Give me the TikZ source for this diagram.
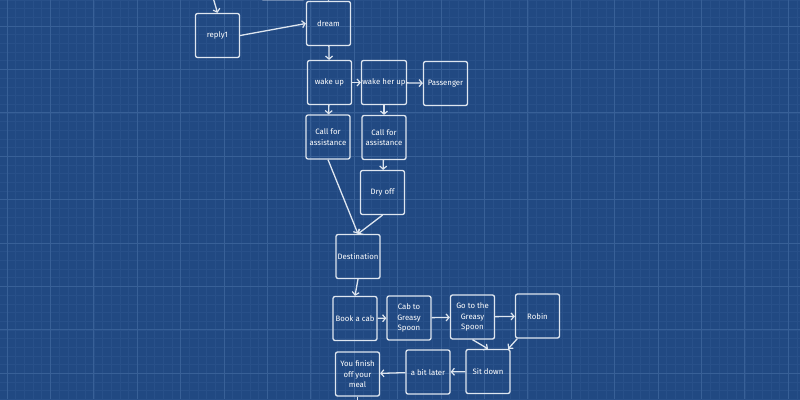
\documentclass[tikz,border=0pt]{standalone}
\usepackage{fontspec}
\setmainfont{Fira Sans}
\usetikzlibrary{arrows.meta}
\definecolor{bpblue}{RGB}{33,73,130}
\definecolor{bpminor}{RGB}{40,80,137}
\definecolor{bpmajor}{RGB}{56,96,151}
\definecolor{bpline}{RGB}{222,230,240}

\tikzset{
  box/.style={draw=bpline, line width=1.3pt, rounded corners=2pt,
    minimum width=44pt, minimum height=44pt, inner sep=1pt,
    align=center, text=white, font=\fontsize{7.8}{10.5}\selectfont},
  flow/.style={draw=bpline, line width=1.3pt,
    -{Straight Barb[length=3pt,width=7pt,line width=1.2pt]}}
}

\begin{document}
\begin{tikzpicture}[x=1pt, y=-1pt]
    \clip (0,0) rectangle (800,399);
    \useasboundingbox (0,0) rectangle (800,399);
    \fill[bpblue] (0,0) rectangle (800,399);
    % blueprint grid
    \foreach \i in {-1,...,92}
      \draw[bpminor, line width=0.5pt] ({7+8.68*\i},0) -- ({7+8.68*\i},399);
    \foreach \i in {-3,...,43}
      \draw[bpminor, line width=0.5pt] (0,{26+8.68*\i}) -- (800,{26+8.68*\i});
    \foreach \i in {0,...,18}
      \draw[bpmajor, line width=0.8pt] ({7+43.4*\i},0) -- ({7+43.4*\i},399);
    \foreach \i in {-1,...,9}
      \draw[bpmajor, line width=0.8pt] (0,{26+43.4*\i}) -- (800,{26+43.4*\i});

    \node[box] (prev) at (283,-22.3) {};
    \node[box] (reply1) at (217.5,35.5) {reply1};
    \node[box] (dream) at (328.5,23.5) {dream};
    \node[box] (wakeup) at (329.5,82.5) {wake up};
    \node[box] (wakeher) at (384,82.5) {wake her up};
    \node[box] (passenger) at (445.5,83.5) {Passenger};
    \node[box] (callA) at (328,137) {Call for\\assistance};
    \node[box] (callB) at (384,137.5) {Call for\\assistance};
    \node[box] (dryoff) at (382.5,192.5) {Dry off};
    \node[box] (dest) at (358,256.5) {Destination};
    \node[box] (bookcab) at (355,318.5) {Book a cab};
    \node[box] (cabto) at (409,318) {Cab to\\Greasy\\Spoon};
    \node[box] (goto) at (472.5,317) {Go to the\\Greasy\\Spoon};
    \node[box] (robin) at (537.5,316) {Robin};
    \node[box] (sitdown) at (488,371.5) {Sit down};
    \node[box] (bitlater) at (428,372) {a bit later};
    \node[box] (finish) at (357.5,374) {You finish\\off your\\meal};

    \coordinate (inreply) at (205,-30);
    \coordinate (indream) at (328.5,-30);
    \coordinate (outfinish) at (357.5,430);

    \draw[flow] (inreply) -- (reply1.north);
    \draw[flow] (indream) -- (dream.north);
    \draw[flow] (reply1.east) -- (dream.west);
    \draw[flow] (dream) -- (wakeup);
    \draw[flow] (wakeup) -- (wakeher);
    \draw[flow] (wakeher) -- (passenger);
    \draw[flow] (wakeup) -- (callA);
    \draw[flow] (wakeher) -- (callB);
    \draw[flow] (callB) -- (dryoff);
    \draw[flow] (callA.south) -- (dest.north);
    \draw[flow] (dryoff.south) -- (dest.north);
    \draw[flow] (dest.south) -- (bookcab.north);
    \draw[flow] (bookcab) -- (cabto);
    \draw[flow] (cabto) -- (goto);
    \draw[flow] (goto) -- (robin);
    \draw[flow] (goto.south) -- (sitdown.north);
    \draw[flow] (robin) -- (sitdown);
    \draw[flow] (sitdown) -- (bitlater);
    \draw[flow] (bitlater) -- (finish);
    \draw[line width=1.3pt, bpline] (finish.south) -- (outfinish);
  \end{tikzpicture}
\end{document}
